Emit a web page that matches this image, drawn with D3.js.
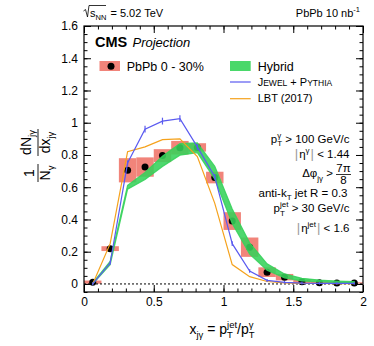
<!DOCTYPE html>
<html lang="en">
<head>
<meta charset="UTF-8"/>
<title>x_jgamma PbPb projection</title>
<script src="https://d3js.org/d3.v7.min.js"></script>
<style>
  body { margin: 0; background: #fff; }
  svg { font-family: "Liberation Sans", Arial, Helvetica, sans-serif; }
  svg text { white-space: pre; }
  .axis text { font-size: 12px; fill: #000; }
  .axis line { stroke: #000; stroke-width: 1; }
  .axis path { display: none; }
</style>
</head>
<body>
<div id="chart"></div>
<script>
// bin centres of x_jgamma (bin width 0.125)
var binCenters = [0.0625, 0.1875, 0.3125, 0.4375, 0.5625, 0.6875, 0.8125, 0.9375,
                  1.0625, 1.1875, 1.3125, 1.4375, 1.5625, 1.6875, 1.8125, 1.9375];
var binWidth = 0.125;

// PbPb 0-30% projection + systematic
var pbpb    = [0.011, 0.219, 0.705, 0.725, 0.796, 0.845, 0.847, 0.660,
               0.390, 0.228, 0.073, 0.042, 0.014, 0.008, 0.006, 0.006];
var pbpbSys = [0.010, 0.015, 0.075, 0.060, 0.040, 0.042, 0.026, 0.036,
               0.055, 0.060, 0.030, 0.020, 0.012, 0.007, 0.005, 0.004];

// Hybrid band
var hybrid    = [0.003, 0.130, 0.600, 0.670, 0.760, 0.835, 0.845, 0.690,
                 0.420, 0.220, 0.105, 0.050, 0.027, 0.018, 0.013, 0.010];
var hybridErr = [0.003, 0.010, 0.012, 0.022, 0.032, 0.036, 0.030, 0.040,
                 0.045, 0.035, 0.020, 0.012, 0.008, 0.006, 0.005, 0.004];

// JEWEL + PYTHIA
var jewel    = [0.000, 0.130, 0.750, 0.960, 1.010, 1.025, 0.850, 0.665,
                0.250, 0.080, 0.022, 0.010, 0.005, 0.004, 0.003, 0.003];
var jewelErr = [0.002, 0.005, 0.010, 0.015, 0.015, 0.015, 0.012, 0.010,
                0.008, 0.005, 0.003, 0.002, 0.002, 0.002, 0.002, 0.002];

// LBT (2017)
var lbt = [0.000, 0.250, 0.820, 0.850, 0.895, 0.900, 0.790, 0.500,
           0.120, 0.045, 0.015, 0.007, 0.004, 0.003, 0.002, 0.002];

var xTicks = [0, 0.5, 1, 1.5, 2];
var yTicks = [0, 0.2, 0.4, 0.6, 0.8, 1, 1.2, 1.4, 1.6];

var w = 374, h = 346;
var pL = 84, pR = 363, pT = 26, pB = 292;

var x = d3.scaleLinear().domain([0, 2]).range([pL, pR]);
var y = d3.scaleLinear().domain([-0.05, 1.6]).range([pB, pT]);

var svg = d3.select("#chart").append("svg")
    .attr("width", w).attr("height", h);

// rich text helper: lays out pieces left to right, stack = sub/sup over each other
function rich(parent, px, py, parts, anchor, fill) {
  var g = parent.append("g");
  var cx = 0;
  parts.forEach(function(p) {
    var items = p.stack || [p];
    var maxW = 0;
    items.forEach(function(it) {
      var t = g.append("text")
        .attr("x", cx).attr("y", it.dy || 0)
        .attr("font-size", it.fs)
        .attr("font-style", it.it ? "italic" : null)
        .attr("font-weight", it.b ? "bold" : null)
        .attr("fill", it.c || fill || "#000")
        .text(it.t);
      maxW = Math.max(maxW, t.node().getComputedTextLength());
    });
    cx += maxW + (p.gap || 0);
  });
  var off = anchor === "end" ? -cx : (anchor === "middle" ? -cx / 2 : 0);
  g.attr("transform", "translate(" + (px + off) + "," + py + ")");
  return g;
}

var plot = svg.append("g");

// systematic boxes
plot.selectAll("rect.sys")
  .data(binCenters)
  .enter().append("rect")
  .attr("class", "sys")
  .attr("x", function(d) { return x(d - binWidth / 2); })
  .attr("width", function(d) { return x(d + binWidth / 2) - x(d - binWidth / 2); })
  .attr("y", function(d, i) { return y(pbpb[i] + pbpbSys[i]); })
  .attr("height", function(d, i) { return y(pbpb[i] - pbpbSys[i]) - y(pbpb[i] + pbpbSys[i]); })
  .attr("fill", "#f1847a");

// zero line
plot.append("line")
  .attr("x1", x(0)).attr("x2", x(2))
  .attr("y1", y(0)).attr("y2", y(0))
  .attr("stroke", "#000").attr("stroke-width", 1)
  .attr("stroke-dasharray", "2,2");

// data points
plot.selectAll("circle.pt")
  .data(binCenters)
  .enter().append("circle")
  .attr("class", "pt")
  .attr("cx", function(d) { return x(d); })
  .attr("cy", function(d, i) { return y(pbpb[i]); })
  .attr("r", 3.5)
  .attr("fill", "#000");

// hybrid band
var band = d3.area()
  .x(function(d) { return x(d); })
  .y0(function(d, i) { return y(hybrid[i] - hybridErr[i]); })
  .y1(function(d, i) { return y(hybrid[i] + hybridErr[i]); });
plot.append("path")
  .datum(binCenters)
  .attr("d", band)
  .attr("fill", "#36d15a")
  .attr("fill-opacity", 0.88)
  .attr("stroke", "#36d15a")
  .attr("stroke-width", 1.2)
  .attr("stroke-opacity", 0.88);

// model lines
function modelLine(vals, color) {
  var line = d3.line()
    .x(function(d) { return x(d); })
    .y(function(d, i) { return y(vals[i]); });
  plot.append("path")
    .datum(binCenters)
    .attr("d", line)
    .attr("fill", "none")
    .attr("stroke", color)
    .attr("stroke-width", 1.2);
}
modelLine(lbt, "#f5a21c");
modelLine(jewel, "#5a5af0");

plot.selectAll("line.jerr")
  .data(binCenters)
  .enter().append("line")
  .attr("class", "jerr")
  .attr("x1", function(d) { return x(d); })
  .attr("x2", function(d) { return x(d); })
  .attr("y1", function(d, i) { return y(jewel[i] - jewelErr[i]) + 1; })
  .attr("y2", function(d, i) { return y(jewel[i] + jewelErr[i]) - 1; })
  .attr("stroke", "#5a5af0").attr("stroke-width", 1.2);

// axes (ticks inside)
function minorTicks(a, b, step) {
  var out = [];
  for (var v = a; v <= b + 1e-9; v += step) out.push(+v.toFixed(3));
  return out;
}
var xMinor = minorTicks(0, 2, 0.1);
var yMinor = minorTicks(-0.05, 1.6, 0.05);

svg.append("g").attr("class", "axis")
  .attr("transform", "translate(0," + pB + ")")
  .call(d3.axisBottom(x).tickValues(xTicks).tickSize(-7).tickPadding(5)
    .tickFormat(d3.format("~g")));
svg.append("g").attr("class", "axis")
  .attr("transform", "translate(0," + pB + ")")
  .call(d3.axisBottom(x).tickValues(xMinor).tickSize(-3.5).tickFormat(""));
svg.append("g").attr("class", "axis")
  .attr("transform", "translate(0," + pT + ")")
  .call(d3.axisTop(x).tickValues(xTicks).tickSize(-7).tickFormat(""));
svg.append("g").attr("class", "axis")
  .attr("transform", "translate(0," + pT + ")")
  .call(d3.axisTop(x).tickValues(xMinor).tickSize(-3.5).tickFormat(""));

svg.append("g").attr("class", "axis")
  .attr("transform", "translate(" + pL + ",0)")
  .call(d3.axisLeft(y).tickValues(yTicks).tickSize(-7).tickPadding(6)
    .tickFormat(d3.format("~g")));
svg.append("g").attr("class", "axis")
  .attr("transform", "translate(" + pL + ",0)")
  .call(d3.axisLeft(y).tickValues(yMinor).tickSize(-3.5).tickFormat(""));
svg.append("g").attr("class", "axis")
  .attr("transform", "translate(" + pR + ",0)")
  .call(d3.axisRight(y).tickValues(yTicks).tickSize(-7).tickFormat(""));
svg.append("g").attr("class", "axis")
  .attr("transform", "translate(" + pR + ",0)")
  .call(d3.axisRight(y).tickValues(yMinor).tickSize(-3.5).tickFormat(""));

svg.selectAll(".axis text").attr("font-size", 12.5);

// frame
svg.append("rect")
  .attr("x", pL).attr("y", pT)
  .attr("width", pR - pL).attr("height", pB - pT)
  .attr("fill", "none").attr("stroke", "#000").attr("stroke-width", 1.2);

// header texts
rich(svg, 90, 16.5, [
  { t: "s", fs: 11 },
  { t: "NN", fs: 7.5, dy: 3, gap: 1 },
  { t: " = 5.02 TeV", fs: 11 }
], "start");
svg.append("path")
  .attr("d", "M83.5,11 L85.5,9.5 L87.5,17 L89,5.5 L106,5.5")
  .attr("fill", "none").attr("stroke", "#000").attr("stroke-width", 0.8);

rich(svg, 360, 16.5, [
  { t: "PbPb 10 nb", fs: 11 },
  { t: "-1", fs: 7.5, dy: -5 }
], "end");

svg.append("text").attr("x", 95).attr("y", 46.5)
  .attr("font-size", 14.5).attr("font-weight", "bold").text("CMS");
svg.append("text").attr("x", 132.5).attr("y", 46.5)
  .attr("font-size", 13).attr("font-style", "italic").text("Projection");

// legend
svg.append("rect").attr("x", 99.5).attr("y", 61).attr("width", 20.5).attr("height", 10)
  .attr("fill", "#f1847a");
svg.append("circle").attr("cx", 111).attr("cy", 66.3).attr("r", 3.5).attr("fill", "#000");
svg.append("text").attr("x", 126.7).attr("y", 70.5).attr("font-size", 12.5).text("PbPb 0 - 30%");

svg.append("rect").attr("x", 230).attr("y", 61).attr("width", 20.7).attr("height", 10)
  .attr("fill", "#4ad86a");
svg.append("text").attr("x", 257.7).attr("y", 70.5).attr("font-size", 12.5).text("Hybrid");

svg.append("line").attr("x1", 230).attr("x2", 250.7).attr("y1", 82).attr("y2", 82)
  .attr("stroke", "#5a5af0").attr("stroke-width", 1.2);
rich(svg, 257.7, 85.5, [
  { t: "J", fs: 11 }, { t: "EWEL", fs: 8.5 }, { t: " + ", fs: 11 },
  { t: "P", fs: 11 }, { t: "YTHIA", fs: 8.5 }
], "start");

svg.append("line").attr("x1", 230).attr("x2", 250.7).attr("y1", 98.7).attr("y2", 98.7)
  .attr("stroke", "#f5a21c").attr("stroke-width", 1.2);
svg.append("text").attr("x", 257.7).attr("y", 102).attr("font-size", 11).text("LBT (2017)");

// selection text block
var rx = 349.5, fsT = 11.5, fsS = 8;
rich(svg, rx, 142.5, [
  { t: "p", fs: fsT },
  { stack: [{ t: "T", fs: fsS, dy: 3.5 }, { t: "γ", fs: fsS, dy: -5 }] },
  { t: " > 100 GeV/c", fs: fsT }
], "end");

rich(svg, rx, 158, [
  { t: "|", fs: 13, c: "#999", gap: 1 },
  { t: "η", fs: fsT },
  { t: "γ", fs: fsS, dy: -5, gap: 1 },
  { t: "|", fs: 13, c: "#999" },
  { t: " < 1.44", fs: fsT }
], "end");

rich(svg, 333, 177, [
  { t: "Δφ", fs: fsT },
  { t: "jγ", fs: fsS, dy: 3.5 },
  { t: " >", fs: fsT }
], "end");
svg.append("text").attr("x", 343.5).attr("y", 172).attr("text-anchor", "middle")
  .attr("font-size", fsT).text("7π");
svg.append("line").attr("x1", 336).attr("x2", 351).attr("y1", 174.5).attr("y2", 174.5)
  .attr("stroke", "#000").attr("stroke-width", 0.8);
svg.append("text").attr("x", 343.5).attr("y", 184).attr("text-anchor", "middle")
  .attr("font-size", fsT).text("8");

rich(svg, 347.5, 196.5, [
  { t: "anti-k", fs: fsT },
  { t: "T", fs: fsS, dy: 3.5 },
  { t: " jet R = 0.3", fs: fsT }
], "end");

rich(svg, rx, 212, [
  { t: "p", fs: fsT },
  { stack: [{ t: "T", fs: fsS, dy: 3.5 }, { t: "jet", fs: fsS, dy: -5 }] },
  { t: " > 30 GeV/c", fs: fsT }
], "end");

rich(svg, rx, 231.5, [
  { t: "|", fs: 13, c: "#999", gap: 1 },
  { t: "η", fs: fsT },
  { t: "jet", fs: fsS, dy: -5, gap: 1 },
  { t: "|", fs: 13, c: "#999" },
  { t: " < 1.6", fs: fsT }
], "end");

// x axis title
rich(svg, 222, 334, [
  { t: "x", fs: 14 },
  { t: "jγ", fs: 9.5, dy: 4 },
  { t: " = ", fs: 14 },
  { t: "p", fs: 14 },
  { stack: [{ t: "T", fs: 9.5, dy: 4 }, { t: "jet", fs: 9.5, dy: -6 }] },
  { t: "/", fs: 14 },
  { t: "p", fs: 14 },
  { stack: [{ t: "T", fs: 9.5, dy: 4 }, { t: "γ", fs: 9.5, dy: -6 }] }
], "middle");

// y axis title (rotated)
var yt = svg.append("g").attr("transform", "translate(38,158) rotate(-90)");
yt.append("text").attr("x", -15).attr("y", -4).attr("text-anchor", "middle")
  .attr("font-size", 14).text("1");
yt.append("line").attr("x1", -24).attr("x2", -6).attr("y1", 0).attr("y2", 0)
  .attr("stroke", "#000").attr("stroke-width", 0.9);
rich(yt, -15, 12, [
  { t: "N", fs: 14 },
  { t: "γ", fs: 9.5, dy: 4 }
], "middle");
rich(yt, 15.5, -7, [
  { t: "dN", fs: 14 },
  { t: "jγ", fs: 9.5, dy: 4 }
], "middle");
yt.append("line").attr("x1", 2).attr("x2", 29).attr("y1", 0).attr("y2", 0)
  .attr("stroke", "#000").attr("stroke-width", 0.9);
rich(yt, 15.5, 12, [
  { t: "dx", fs: 14 },
  { t: "jγ", fs: 9.5, dy: 4 }
], "middle");
</script>
</body>
</html>
